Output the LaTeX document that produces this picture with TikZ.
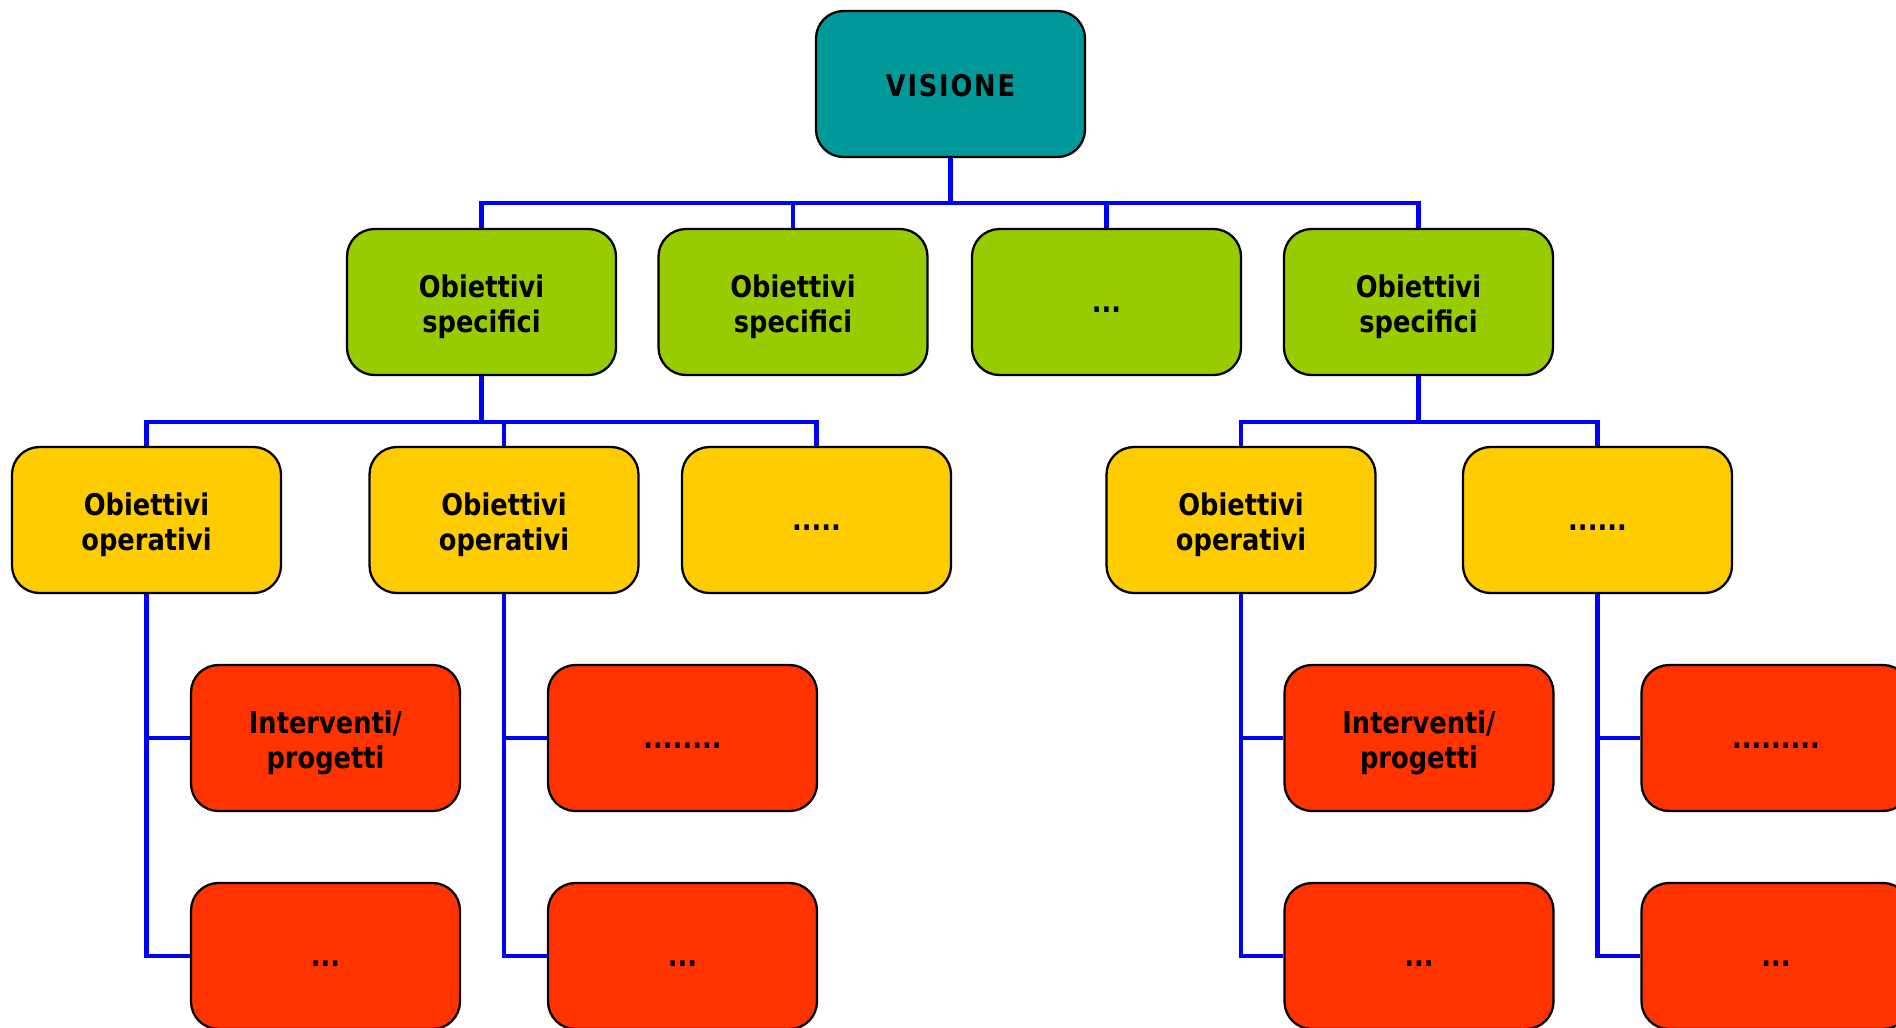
\documentclass[tikz,border=0pt]{standalone}
\usepackage{fontspec}
\setmainfont{DejaVu Sans}[FakeStretch=0.86]
\usetikzlibrary{calc}
\pgfdeclarelayer{bg}
\pgfsetlayers{bg,main}
\definecolor{visteal}{HTML}{009999}
\definecolor{spegreen}{HTML}{99CC00}
\definecolor{opeyellow}{HTML}{FFCC00}
\definecolor{intred}{HTML}{FF3300}
\def\boxstrut{\rule{0pt}{18.6pt}}
\def\dotstrut{\rule{0pt}{12.4pt}}

\begin{document}
\begin{tikzpicture}[
	box/.style={draw=black, line width=1.3pt, rounded corners=0.55cm, minimum width=5.38cm, minimum height=2.92cm, align=center, inner sep=0pt, font=\bfseries\fontsize{17}{20}\selectfont},
	bus/.style={draw=blue, line width=2.8pt}
]
			%%%%% START %%%%%
			\useasboundingbox (0,0) rectangle (37.92,-20.54);
			
			\node[box, fill=visteal] (vis) at (19.01, -1.68) {\rule{0pt}{14.6pt}\addfontfeature{LetterSpace=6}VISIONE};
			
			\node[box, fill=spegreen] (spe1) at (9.63, -6.04) {\boxstrut Obiettivi\\specifici};
			\node[box, fill=spegreen] (spe2) at (15.86, -6.04) {\boxstrut Obiettivi\\specifici};
			\node[box, fill=spegreen] (spe3) at (22.13, -6.04) {\dotstrut...};
			\node[box, fill=spegreen] (spe4) at (28.37, -6.04) {\boxstrut Obiettivi\\specifici};
			
			\node[box, fill=opeyellow] (ope1) at (2.93, -10.40) {\boxstrut Obiettivi\\operativi};
			\node[box, fill=opeyellow] (ope2) at (10.08, -10.40) {\boxstrut Obiettivi\\operativi};
			\node[box, fill=opeyellow] (ope3) at (16.33, -10.40) {\dotstrut.....};
			\node[box, fill=opeyellow] (ope4) at (24.82, -10.40) {\boxstrut Obiettivi\\operativi};
			\node[box, fill=opeyellow] (ope5) at (31.95, -10.40) {\dotstrut......};
			
			\node[box, fill=intred] (int1a) at (6.51, -14.76) {\boxstrut Interventi/\\progetti};
			\node[box, fill=intred] (int1b) at (6.51, -19.12) {\dotstrut...};
			\node[box, fill=intred] (int2a) at (13.65, -14.76) {\dotstrut........};
			\node[box, fill=intred] (int2b) at (13.65, -19.12) {\dotstrut...};
			\node[box, fill=intred] (int4a) at (28.38, -14.76) {\boxstrut Interventi/\\progetti};
			\node[box, fill=intred] (int4b) at (28.38, -19.12) {\dotstrut...};
			\node[box, fill=intred] (int5a) at (35.52, -14.76) {\dotstrut.........};
			\node[box, fill=intred] (int5b) at (35.52, -19.12) {\dotstrut...};
			
			\coordinate (bus1) at (0, -4.06);
			\coordinate (bus2) at (0, -8.44);
			
			\begin{pgfonlayer}{bg}
			\fill[white] (0,0) rectangle (37.92,-20.54);
			
			\draw[bus] (vis.south) -- (vis |- bus1);
			\draw[bus] (spe1.north) |- (spe4 |- bus1) -- (spe4.north);
			\foreach \n in {spe2,spe3}
				\draw[bus] (\n.north) -- (\n |- bus1);
			
			\draw[bus] (spe1.south) -- (spe1 |- bus2);
			\draw[bus] (ope1.north) |- (ope3 |- bus2) -- (ope3.north);
			\draw[bus] (ope2.north) -- (ope2 |- bus2);
			\draw[bus] (spe4.south) -- (spe4 |- bus2);
			\draw[bus] (ope4.north) |- (ope5 |- bus2) -- (ope5.north);
			
			\foreach \o/\a/\b in {ope1/int1a/int1b, ope2/int2a/int2b, ope4/int4a/int4b, ope5/int5a/int5b} {
				\draw[bus] (\o.south) |- (\b.west);
				\draw[bus] (\o |- \a) -- (\a.west);
			}
			\end{pgfonlayer}
			
			%%%%% END %%%%%
\end{tikzpicture}
\end{document}
